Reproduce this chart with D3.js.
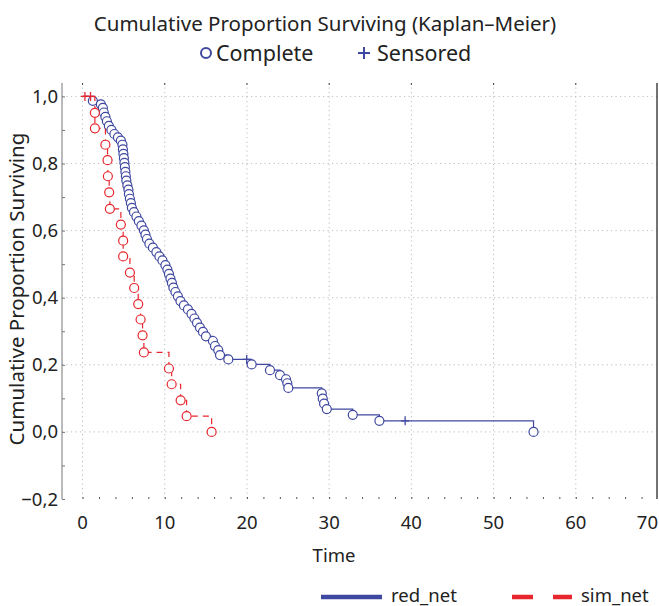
<!DOCTYPE html>
<html>
<head>
<meta charset="utf-8">
<script src="https://cdn.jsdelivr.net/npm/d3@7"></script>
<style>
  body { margin: 0; background: #fff; }
  svg { display: block; font-family: "Noto Sans", "DejaVu Sans", sans-serif; }
</style>
</head>
<body>
<svg id="chart" width="659" height="606"></svg>
<script>
// red_net : event times and survival after each event
const redTimes = [1.25, 2.23, 2.47, 2.59, 2.78, 2.96, 3.20, 3.51, 3.87, 4.30,
  4.66, 4.85, 4.91, 4.97, 5.03, 5.09, 5.15, 5.21, 5.27, 5.33,
  5.45, 5.58, 5.64, 5.76, 5.88, 6.00, 6.25, 6.55, 6.85, 7.16,
  7.46, 7.65, 7.83, 8.13, 8.56, 8.98, 9.35, 9.72, 10.08, 10.32,
  10.51, 10.69, 10.87, 11.05, 11.30, 11.60, 11.91, 12.33, 12.82, 13.25,
  13.61, 13.92, 14.28, 14.65, 15.01, 15.86, 16.11, 16.51, 16.72, 17.73,
  20.57, 22.80, 24.02, 24.75, 24.91, 25.03, 29.10, 29.22, 29.38, 29.71,
  32.87, 36.11, 54.86]
const redSurv = [0.987, 0.976, 0.966, 0.952, 0.939, 0.926, 0.912, 0.900, 0.888, 0.878,
  0.868, 0.856, 0.842, 0.829, 0.816, 0.802, 0.789, 0.775, 0.762, 0.749,
  0.735, 0.722, 0.709, 0.695, 0.682, 0.668, 0.655, 0.642, 0.628, 0.615,
  0.601, 0.588, 0.575, 0.561, 0.549, 0.536, 0.523, 0.511, 0.497, 0.484,
  0.471, 0.457, 0.444, 0.430, 0.417, 0.404, 0.390, 0.377, 0.365, 0.352,
  0.338, 0.325, 0.311, 0.298, 0.285, 0.271, 0.256, 0.244, 0.229, 0.216,
  0.201, 0.184, 0.169, 0.157, 0.145, 0.131, 0.115, 0.099, 0.084, 0.068,
  0.051, 0.033, 0.000]
const redCensTimes = [19.97, 39.24]
const redCensSurv = [0.216, 0.033]

// sim_net
const simTimes = [1.50, 1.50, 2.78, 3.04, 3.08, 3.24, 3.32, 4.66, 4.94, 4.94,
  5.76, 6.28, 6.77, 7.06, 7.30, 7.46, 10.51, 10.84, 11.93, 12.66, 15.70]
const simSurv = [0.951, 0.905, 0.856, 0.810, 0.762, 0.714, 0.665, 0.618, 0.570, 0.523,
  0.475, 0.429, 0.381, 0.335, 0.288, 0.237, 0.189, 0.142, 0.094, 0.047, 0.000]
const simCensTimes = [0.29, 0.97]
const simCensSurv = [1.0, 1.0]

const xTicks = [0, 10, 20, 30, 40, 50, 60, 70]
const yTicks = [-0.2, 0, 0.2, 0.4, 0.6, 0.8, 1.0]

const blue = '#3f48a0'
const red = '#e8262e'

const svg = d3.select('#chart')
const x = d3.scaleLinear().domain([-2.5, 70]).range([62, 658])
const y = d3.scaleLinear().domain([-0.2, 1.04]).range([499, 83])
const fmt = d => d3.format('.1f')(d).replace('.', ',').replace('-', '\u2212')

// grid
svg.append('g').selectAll('line')
  .data(xTicks.filter(d => d < 70))
  .join('line')
  .attr('x1', d => x(d)).attr('x2', d => x(d))
  .attr('y1', y.range()[1]).attr('y2', y.range()[0])
  .attr('stroke', '#bbb').attr('stroke-dasharray', '1.2,3.3')
svg.append('g').selectAll('line')
  .data(yTicks.filter(d => d > -0.2))
  .join('line')
  .attr('x1', x.range()[0]).attr('x2', x.range()[1])
  .attr('y1', d => y(d)).attr('y2', d => y(d))
  .attr('stroke', '#bbb').attr('stroke-dasharray', '1.2,3.3')

// left axis with inward minor ticks
const yAxis = d3.axisRight(y).tickValues(d3.range(-0.2, 1.0001, 0.1)).tickSize(3).tickFormat('')
svg.append('g').attr('transform', `translate(${x.range()[0]},0)`).call(yAxis)
  .call(g => g.select('.domain').attr('stroke', '#777').attr('d', `M0,${y.range()[1]}V${y.range()[0]}`))
  .call(g => g.selectAll('.tick line').attr('stroke', '#777'))
svg.append('g').selectAll('text')
  .data(yTicks).join('text')
  .attr('x', 58).attr('y', d => y(d) + 6.5)
  .attr('text-anchor', 'end').attr('font-size', 18.5).attr('fill', '#222')
  .text(fmt)

// right border
svg.append('line')
  .attr('x1', x.range()[1] - 1).attr('x2', x.range()[1] - 1)
  .attr('y1', y.range()[1]).attr('y2', y.range()[0])
  .attr('stroke', '#444').attr('stroke-width', 1.5)

// bottom minor ticks, top major ticks
const xAxis = d3.axisTop(x).tickValues(d3.range(0, 70, 2)).tickSize(2).tickFormat('')
svg.append('g').attr('transform', `translate(0,${y.range()[0]})`).call(xAxis)
  .call(g => g.select('.domain').remove())
  .call(g => g.selectAll('.tick line').attr('stroke', '#555'))
svg.append('g').selectAll('line')
  .data(xTicks.filter(d => d < 70)).join('line')
  .attr('x1', d => x(d)).attr('x2', d => x(d))
  .attr('y1', y.range()[1]).attr('y2', y.range()[1] + 2)
  .attr('stroke', '#444')
svg.append('g').selectAll('text')
  .data(xTicks).join('text')
  .attr('x', d => d === 70 ? 658 : x(d)).attr('y', 529)
  .attr('text-anchor', d => d === 70 ? 'end' : 'middle')
  .attr('font-size', 18.5).attr('fill', '#222')
  .text(d => d)

// step curves
const line = d3.line().x(d => x(d[0])).y(d => y(d[1])).curve(d3.curveStepAfter)

function drawSeries(times, surv, censT, censS, color, dash) {
  const pts = [[0, 1]].concat(times.map((t, i) => [t, surv[i]]))
  const lastCens = d3.max(censT)
  const lastT = d3.max(times)
  if (lastCens > lastT) pts.push([lastCens, censS[censT.indexOf(lastCens)]])
  const g = svg.append('g')
  g.append('path').attr('d', line(pts))
    .attr('fill', 'none').attr('stroke', color).attr('stroke-width', 1.2)
    .attr('stroke-dasharray', dash)
  g.selectAll('path.cens').data(censT).join('path').attr('class', 'cens')
    .attr('d', (t, i) => `M${x(t) - 4},${y(censS[i])}H${x(t) + 4}M${x(t)},${y(censS[i]) - 4.5}V${y(censS[i]) + 4.5}`)
    .attr('stroke', color).attr('stroke-width', 1.3)
  g.selectAll('circle').data(times).join('circle')
    .attr('cx', d => x(d)).attr('cy', (d, i) => y(surv[i])).attr('r', 4.5)
    .attr('fill', '#fff').attr('stroke', color).attr('stroke-width', 1.2)
}
drawSeries(redTimes, redSurv, redCensTimes, redCensSurv, blue, null)
drawSeries(simTimes, simSurv, simCensTimes, simCensSurv, red, '6,5')

// titles
svg.append('text').attr('x', 325).attr('y', 31).attr('text-anchor', 'middle')
  .attr('font-size', 20.5).attr('fill', '#222')
  .text('Cumulative Proportion Surviving (Kaplan\u2013Meier)')
svg.append('circle').attr('cx', 206).attr('cy', 53).attr('r', 5)
  .attr('fill', 'none').attr('stroke', blue).attr('stroke-width', 2)
svg.append('text').attr('x', 216).attr('y', 61).attr('font-size', 21.5).attr('fill', '#222').text('Complete')
svg.append('path').attr('d', 'M358,53H370M364,47V59').attr('stroke', blue).attr('stroke-width', 2)
svg.append('text').attr('x', 377).attr('y', 61).attr('font-size', 21.5).attr('fill', '#222').text('Sensored')

svg.append('text').attr('transform', 'translate(24,289) rotate(-90)')
  .attr('text-anchor', 'middle').attr('font-size', 20.5).attr('fill', '#222')
  .text('Cumulative Proportion Surviving')
svg.append('text').attr('x', 334).attr('y', 562).attr('text-anchor', 'middle')
  .attr('font-size', 18.5).attr('fill', '#222').text('Time')

// bottom legend
svg.append('line').attr('x1', 321).attr('x2', 382).attr('y1', 597).attr('y2', 597)
  .attr('stroke', blue).attr('stroke-width', 4.5)
svg.append('text').attr('x', 391).attr('y', 602).attr('font-size', 18.5).attr('fill', '#222').text('red_net')
svg.append('line').attr('x1', 512).attr('x2', 572).attr('y1', 597).attr('y2', 597)
  .attr('stroke', red).attr('stroke-width', 4.5).attr('stroke-dasharray', '21,20')
svg.append('text').attr('x', 581).attr('y', 602).attr('font-size', 18.5).attr('fill', '#222').text('sim_net')
</script>
</body>
</html>
